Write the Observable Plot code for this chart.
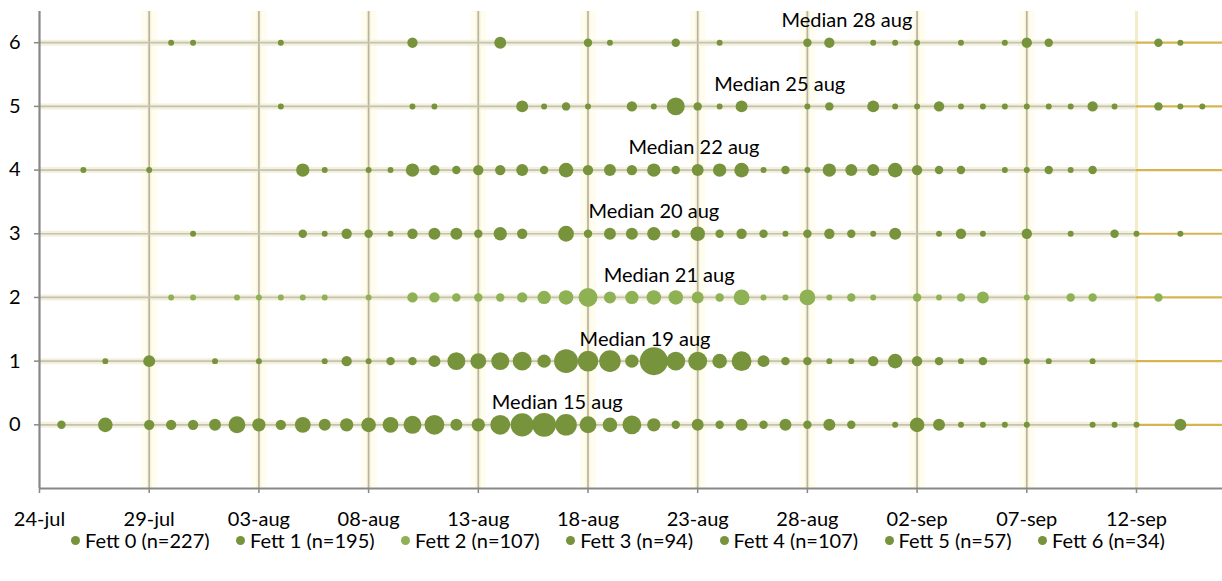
<!DOCTYPE html>
<html><head><meta charset="utf-8">
<script src="https://cdn.jsdelivr.net/npm/d3@7"></script>
<script src="https://cdn.jsdelivr.net/npm/@observablehq/plot@0.6"></script>
<style>
body{margin:0;background:#fff;font-family:Lato,sans-serif;}
#chart svg{display:block;}
#legend{display:flex;justify-content:center;gap:26.5px;font-size:20px;line-height:20px;height:20px;color:#000;padding-left:14px;margin-top:-2px;}
.item{display:flex;align-items:center;white-space:nowrap;}
.sw{width:9px;height:9px;border-radius:50%;margin-right:5px;}
</style></head><body>
<div id="chart"></div><div id="legend"></div>
<script>
// Season start: 24 July; each array entry is the count of fish on that day (day 0 = 24-jul)
const seriesNames = ["Fett 0","Fett 1","Fett 2","Fett 3","Fett 4","Fett 5","Fett 6"];
const seriesN = [227,195,107,94,107,57,34];
const fett0 = [0,2,0,6,0,3,3,3,4,8, 5,3,7,4,5,6,7,9,11,4, 5,11,15,16,13,8,6,10,5,2, 4,2,4,2,4,2,4,2,0,1, 6,4,1,1,1,1,0,0,1,1, 1,0,4,0];
const fett1 = [0,0,0,1,0,4,0,0,1,0, 1,0,0,1,3,1,2,2,4,9, 7,9,10,5,16,12,13,5,22,10, 10,6,11,4,2,2,1,1,3,6, 3,2,1,2,0,1,1,0,1,0, 0,0,0,0];
const fett2 = [0,0,0,0,0,0,1,1,0,1, 1,1,1,1,0,1,0,3,3,2, 2,2,3,5,6,10,4,5,6,6, 4,2,7,1,1,7,1,2,1,0, 2,1,2,4,0,1,0,2,2,0, 0,2,0,0];
const fett3 = [0,0,0,0,0,0,0,1,0,0, 0,0,2,1,3,2,1,3,4,4, 2,5,3,0,7,2,4,4,5,2, 6,2,3,2,1,2,3,2,1,4, 0,1,3,1,0,3,0,1,0,2, 1,0,1,0];
const fett4 = [0,0,1,0,0,1,0,0,0,0, 0,0,5,1,0,1,1,5,3,2, 3,3,4,2,6,3,4,3,5,2, 4,5,6,1,2,1,5,4,4,6, 3,2,2,0,1,1,2,1,2,0, 0,0,0,0];
const fett5 = [0,0,0,0,0,0,0,0,0,0, 0,1,0,0,0,0,0,1,1,0, 0,0,4,1,2,1,0,3,1,9, 2,1,4,0,0,1,2,0,4,1, 1,3,1,1,1,1,1,1,3,1, 0,2,1,1];
const fett6 = [0,0,0,0,0,0,1,1,0,0, 0,1,0,0,0,0,0,3,0,0, 0,4,0,0,0,2,1,0,0,2, 0,1,0,0,0,2,3,0,1,1, 1,0,1,0,1,3,2,0,0,0, 0,2,1,0];
const tickDays = [0,5,10,15,20,25,30,35,40,45,50];
const levels = [0,1,2,3,4,5,6];
const medianTexts = ["Median 15 aug","Median 19 aug","Median 21 aug","Median 20 aug","Median 22 aug","Median 25 aug","Median 28 aug"];
const medianLabelDay = [23.6, 27.6, 28.7, 28.0, 29.83, 33.74, 36.8];

const colors = ["#77933c","#77933c","#8db153","#77933c","#77933c","#77933c","#77933c"];
const DAY = 864e5;
const t0 = Date.UTC(2014, 6, 24);
const dayToDate = d => new Date(t0 + d * DAY);
const monthNames = ["jan","feb","mar","apr","maj","jun","jul","aug","sep","okt","nov","dec"];
const fmt = d => String(d.getUTCDate()).padStart(2,"0") + "-" + monthNames[d.getUTCMonth()];

const series = [fett0,fett1,fett2,fett3,fett4,fett5,fett6];
const dots = series.flatMap((arr, s) => arr.map((c, d) => ({date: dayToDate(d), fett: s, count: c, color: colors[s]}))).filter(o => o.count > 0);
const labels = medianTexts.map((t, i) => ({text: t, fett: i, date: dayToDate(medianLabelDay[i])}));

const start = dayToDate(0);
const xEnd = dayToDate(53.92);
const lastGrid = dayToDate(tickDays[tickDays.length - 1]);
const gridDates = tickDays.slice(1, -1).map(dayToDate);

const chart = Plot.plot({
  width: 1222, height: 532,
  marginLeft: 39, marginRight: 0, marginTop: 11, marginBottom: 44,
  style: {fontFamily: "Lato, sans-serif", fontSize: "20px", background: "#fff", color: "#000", overflow: "visible"},
  x: {domain: [start, xEnd], axis: null},
  y: {domain: [-1, 6.49], axis: null},
  r: {type: "sqrt", domain: [0, 22], range: [0, 14]},
  color: {type: "identity"},
  marks: [
    Plot.ruleX(gridDates, {stroke: "#fffdf0", strokeWidth: 16}),
    Plot.ruleX(gridDates, {stroke: "#faf6de", strokeWidth: 5}),
    Plot.ruleY(levels, {x1: () => start, x2: () => lastGrid, stroke: "#f3f0db", strokeWidth: 6}),
    Plot.ruleX(gridDates, {stroke: "#b8b3a1", strokeWidth: 1.7}),
    Plot.ruleX([lastGrid], {stroke: "#f4ecc6", strokeWidth: 3}),
    Plot.ruleY(levels, {x1: () => start, x2: () => lastGrid, stroke: "#c6c2b2", strokeWidth: 1.7}),
    Plot.ruleY(levels, {x1: () => lastGrid, x2: () => xEnd, stroke: "#d5b550", strokeWidth: 2.2}),
    Plot.ruleX([start], {stroke: "#878787", strokeWidth: 2.2}),
    Plot.ruleY([-1], {stroke: "#878787", strokeWidth: 2.2}),
    Plot.axisX({ticks: tickDays.map(dayToDate), tickFormat: fmt, tickSize: 5, tickPadding: 18, stroke: "#878787", strokeWidth: 1.5, fontSize: 20, label: null}),
    Plot.axisY({ticks: levels, tickSize: 5, tickPadding: 14, stroke: "#878787", strokeWidth: 1.5, fontSize: 20, label: null}),
    Plot.dot(dots, {x: "date", y: "fett", r: "count", fill: "color"}),
    Plot.text(labels, {x: "date", y: "fett", text: "text", dy: -22, fontSize: 20, fill: "#000"})
  ]
});
document.getElementById("chart").append(chart);

const legend = document.getElementById("legend");
seriesNames.forEach((name, i) => {
  const item = document.createElement("div");
  item.className = "item";
  const sw = document.createElement("span");
  sw.className = "sw";
  sw.style.background = colors[i];
  item.append(sw, document.createTextNode(`${name} (n=${seriesN[i]})`));
  legend.append(item);
});
</script>
</body></html>
